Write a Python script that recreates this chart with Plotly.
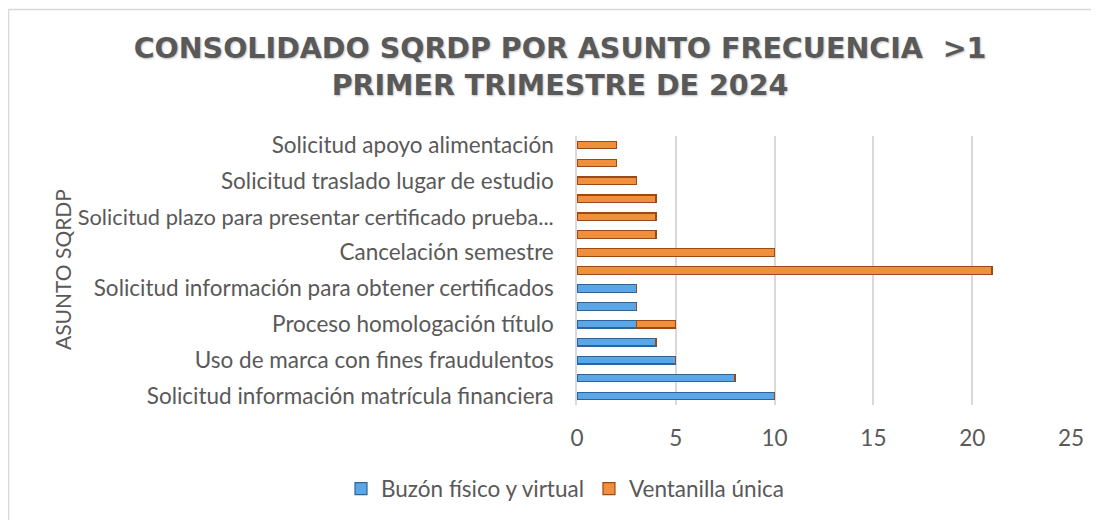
import plotly.graph_objects as go

# Categories from bottom to top (hidden labels were skipped by the original chart)
categories = [
    "Solicitud información matrícula financiera",
    "Asunto 2",
    "Uso de marca con fines fraudulentos",
    "Asunto 4",
    "Proceso homologación título",
    "Asunto 6",
    "Solicitud información para obtener certificados",
    "Asunto 8",
    "Cancelación semestre",
    "Asunto 10",
    "Solicitud plazo para presentar certificado prueba...",
    "Asunto 12",
    "Solicitud traslado lugar de estudio",
    "Asunto 14",
    "Solicitud apoyo alimentación",
]
shown_labels = [
    "Solicitud información matrícula financiera",
    "Uso de marca con fines fraudulentos",
    "Proceso homologación título",
    "Solicitud información para obtener certificados",
    "Cancelación semestre",
    "Solicitud plazo para presentar certificado prueba...",
    "Solicitud traslado lugar de estudio",
    "Solicitud apoyo alimentación",
]
buzon = [10, 8, 5, 4, 3, 3, 3, 0, 0, 0, 0, 0, 0, 0, 0]
ventanilla = [0, 0, 0, 0, 2, 0, 0, 21, 10, 4, 4, 4, 3, 2, 2]
x_ticks = [0, 5, 10, 15, 20, 25]

gray = "#595959"
FS = 22.5
OFF = 8  # page body margin offset

# the truncated label is drawn a touch smaller, as in the original
tick_text = [
    f'<span style="font-size:21.8px">{t}</span>' if t.endswith("...") else t
    for t in shown_labels
]

fig = go.Figure()
fig.add_trace(go.Bar(
    y=categories, x=buzon, orientation="h", name="Buzón físico y virtual",
    marker=dict(color="#5AA6E6", line=dict(color="#2F6499", width=1.2)),
))
fig.add_trace(go.Bar(
    y=categories, x=ventanilla, orientation="h", name="Ventanilla única",
    marker=dict(color="#F0903C", line=dict(color="#9A4A17", width=1.2)),
))

L, R, T, B = 577 - OFF, 1071 - OFF, 136 - OFF, 405 - OFF
W, H = R - L, B - T

def px_x(p):
    return (p - OFF - L) / W

def px_y(p):
    return (B - (p - OFF)) / H

fig.update_layout(
    width=1099, height=520,
    barmode="stack", bargap=0.58,
    paper_bgcolor="white", plot_bgcolor="white",
    margin=dict(l=L, r=1099 - R, t=T, b=520 - B, autoexpand=False),
    font=dict(family="Lato, Open Sans, sans-serif", color=gray, size=FS),
    title=dict(
        text="CONSOLIDADO SQRDP POR ASUNTO FRECUENCIA  >1<br>PRIMER TRIMESTRE DE 2024",
        font=dict(family="DejaVu Sans, sans-serif", size=28.5, color=gray, weight="bold",
                  shadow="1px 1px 2px rgba(0,0,0,0.25)"),
        x=(560 - OFF) / 1099, xanchor="center", y=1 - 50 / 520, yanchor="middle", yref="container",
    ),
    xaxis=dict(
        range=[0, 25], tickvals=x_ticks, showgrid=True, gridcolor="#D9D9D9", gridwidth=1.5,
        zeroline=False, showline=False, ticks="", tickfont=dict(size=FS, color=gray),
        fixedrange=True, automargin=False, ticklabelstandoff=17,
    ),
    yaxis=dict(
        categoryorder="array", categoryarray=categories,
        tickvals=shown_labels, ticktext=tick_text,
        showline=True, linecolor="#D9D9D9", linewidth=1.5, ticks="", ticklen=0,
        tickfont=dict(size=FS, color=gray), automargin=False, ticklabelstandoff=17,
    ),
    legend=dict(
        orientation="h", xref="container", yref="container",
        x=(565 - OFF) / 1099, xanchor="center", y=1 - (489 - OFF) / 520, yanchor="middle",
        font=dict(size=FS, color=gray), traceorder="normal", itemwidth=30,
    ),
    showlegend=True,
    annotations=[dict(
        text="ASUNTO SQRDP", textangle=-90, xref="paper", yref="paper",
        x=px_x(62), y=px_y(270), xanchor="center", yanchor="middle", showarrow=False,
        font=dict(size=21, color=gray),
    )],
    shapes=[dict(
        type="rect", xref="paper", yref="paper",
        x0=px_x(8.5), x1=px_x(1130), y0=px_y(550), y1=px_y(9.5),
        line=dict(color="#D9D9D9", width=1.5), fillcolor="rgba(0,0,0,0)", layer="below",
    )],
)

fig.write_html("out.html")
